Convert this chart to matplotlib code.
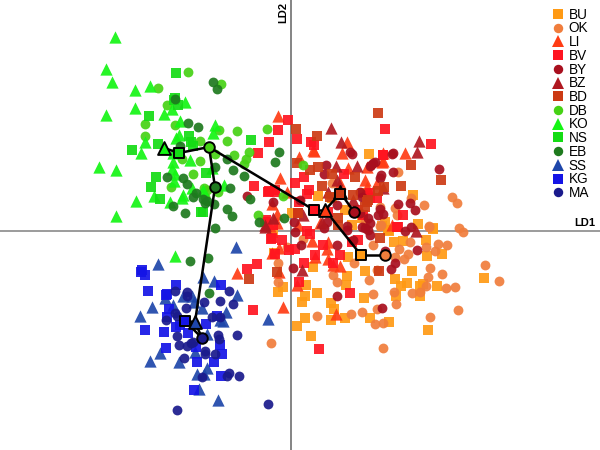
import matplotlib
matplotlib.use("Agg")
import matplotlib.pyplot as plt
from matplotlib.lines import Line2D

plt.rcParams['font.family'] = ['Liberation Sans', 'DejaVu Sans']

BU = [(74,-40),(104,-48),(121,-40),(56,-45),(55,-54),(116,-52),(110,-55),(129,-55),(146,-55),(193,-47),(129,-65),(132,-53),(105,-65),(73,-67),(26,-62),(14,-65),(11,-71),(15,-54),(-8,-56),(-13,-61),(22,-36),(40,-72),(43,-78),(14,-87),(6,-95),(20,-105),(40,-89),(54,-87),(79,-87),(98,-91),(137,-99),(136,-25),(151,-23),(135,-9),(112,-10),(103,-11),(57,-26),(97,1),(142,2),(-18,-2),(-17,-22),(78,77),(122,36),(127,7),(142,3),(94,9),(98,0),(71,13),(72,38),(1,18),(27,35),(54,21),(41,33),(61,6),(91,5),(74,38)]
OK = [(42,-44),(46,-51),(78,-49),(82,-63),(103,-61),(121,-62),(129,-61),(135,-55),(137,-46),(139,-37),(151,-43),(155,-57),(164,-56),(194,-34),(208,-50),(167,-79),(139,-86),(105,-73),(84,-93),(92,-92),(71,-81),(60,-83),(26,-85),(-20,-112),(92,-117),(86,-78),(-13,-32),(-13,-51),(12,-8),(63,-32),(108,-18),(113,-28),(117,-23),(104,-26),(135,-16),(147,-13),(156,-14),(144,-20),(119,-11),(82,-14),(172,-1),(168,3),(138,4),(86,-39),(107,59),(161,34),(166,28),(133,26),(120,33),(104,23),(106,16),(90,6),(138,5),(89,24),(41,48),(89,5),(72,38),(74,9),(-4,-16)]
LI = [(114,78),(92,78),(92,70),(74,51),(86,48),(101,6),(-13,115),(56,89),(51,78),(8,74),(23,80),(-11,53),(57,63),(76,64),(-19,27),(22,81),(-4,39),(76,44),(91,69),(-21,5),(7,6),(-14,8),(49,48),(29,8),(-12,-17),(-19,-22),(21,-10),(37,-11),(36,-18),(37,-28),(24,-26),(49,-35),(-12,-41),(6,-54),(-8,-76),(45,-83),(42,-34),(-54,-42),(-14,17)]
BV = [(140,87),(92,76),(112,16),(107,4),(86,33),(79,38),(-3,111),(-13,101),(-22,89),(-33,78),(6,92),(20,89),(23,86),(94,102),(92,76),(13,54),(4,48),(-37,45),(-22,40),(-16,41),(18,41),(16,37),(8,29),(53,57),(-26,9),(7,18),(37,19),(72,16),(106,4),(79,33),(67,21),(-19,-7),(-9,-9),(-16,-23),(-2,-19),(4,-18),(-34,-33),(13,-32),(24,-24),(32,-14),(49,-24),(42,-32),(8,-51),(59,-62),(28,-118),(-38,-79),(16,0),(19,-3),(67,-9),(61,-11),(-44,-38),(-20,-8),(-18,6),(-25,11),(-23,39),(-16,39)]
BY = [(101,77),(84,69),(80,66),(102,59),(90,56),(89,53),(148,62),(107,27),(119,28),(124,21),(89,22),(92,17),(77,13),(79,8),(120,4),(114,0),(71,34),(71,4),(77,1),(59,79),(61,77),(35,66),(33,57),(82,68),(79,65),(102,78),(-18,29),(9,31),(46,26),(69,39),(3,9),(36,9),(56,5),(69,18),(87,16),(4,-1),(10,-14),(2,-37),(46,-14),(33,3),(56,1),(46,-65),(91,-77),(100,-38),(104,-32),(94,-20),(126,-19),(79,-4),(74,3),(62,-9),(-44,35)]
BZ = [(128,90),(126,79),(125,0),(40,103),(50,89),(66,65),(45,65),(37,39),(46,51),(12,16),(31,9),(-18,13),(-26,6),(62,31),(92,43),(11,-39),(-26,4)]
BD = [(120,66),(150,51),(110,45),(93,44),(87,40),(77,31),(74,24),(87,118),(5,102),(26,95),(6,68),(19,61),(27,64),(41,57),(64,54),(31,45),(39,34),(47,13),(76,29),(47,6),(7,18),(62,36),(-14,-41),(-42,-48),(88,-40),(89,-7)]
DB = [(-103,159),(-70,147),(-133,143),(-124,126),(-146,107),(-116,106),(-146,95),(-72,101),(-54,100),(-24,102),(-91,90),(-64,90),(-76,77),(-57,76),(-42,79),(-91,70),(-45,72),(-47,67),(-98,57),(-120,44),(-109,72),(-73,39),(-8,35),(-87,43),(-33,16),(-84,41),(-86,34),(12,66)]
KO = [(-176,194),(-185,162),(-179,149),(-156,141),(-141,145),(-156,123),(-185,116),(-127,117),(-106,129),(-119,122),(-111,110),(-76,106),(-78,98),(-112,96),(-115,93),(-146,89),(-150,78),(-192,64),(-175,61),(-118,78),(-118,69),(-101,71),(-119,62),(-116,57),(-117,50),(-99,43),(-67,46),(-137,35),(-155,30),(-121,29),(-108,36),(-109,33),(-175,15),(-88,41),(-79,63),(-116,-25)]
NS = [(-115,158),(-116,133),(-117,131),(-113,126),(-142,115),(-102,95),(-100,89),(-133,87),(-159,81),(-98,85),(-40,91),(-85,58),(-135,54),(-140,44),(-131,32),(-90,19),(-88,19)]
EB = [(-78,149),(-74,142),(-116,132),(-103,108),(-93,104),(-111,85),(-64,72),(-12,79),(-16,69),(-58,61),(-76,64),(-47,55),(-124,54),(-108,53),(-104,47),(-61,43),(-95,38),(-98,34),(-88,32),(-84,30),(-86,28),(-77,27),(-118,25),(-106,18),(-64,22),(-59,15),(-41,32),(-7,13),(-32,9),(-76,3),(-101,-30),(-83,-27),(-82,-62)]
SS = [(-55,-16),(-133,-33),(-88,-46),(-77,-50),(-54,-64),(-108,-65),(-99,-65),(-97,-71),(-118,-74),(-139,-76),(-89,-77),(-65,-81),(-151,-85),(-71,-89),(-68,-90),(-84,-103),(-96,-121),(-131,-122),(-141,-130),(-112,-131),(-84,-137),(-94,-143),(-87,-143),(-92,-158),(-73,-169),(-23,-88),(-126,-67)]
KG = [(-149,-39),(-150,-41),(-146,-44),(-115,-54),(-143,-60),(-70,-54),(-125,-64),(-124,-63),(-122,-78),(-124,-86),(-74,-85),(-85,-93),(-146,-99),(-127,-101),(-115,-96),(-103,-102),(-71,-114),(-125,-117),(-95,-116),(-69,-123),(-94,-131),(-77,-131),(-70,-145),(-97,-159),(-111,-94)]
MA = [(-116,-60),(-104,-61),(-104,-65),(-62,-60),(-87,-71),(-71,-70),(-58,-73),(-105,-77),(-116,-82),(-114,-85),(-125,-89),(-79,-86),(-71,-86),(-114,-105),(-73,-104),(-72,-108),(-54,-104),(-112,-114),(-104,-115),(-100,-112),(-98,-111),(-107,-127),(-86,-120),(-86,-123),(-76,-123),(-89,-146),(-64,-145),(-62,-142),(-52,-145),(-114,-179),(-23,-173)]

GROUPS = ['BU','OK','LI','BV','BY','BZ','BD','DB','KO','NS','EB','SS','KG','MA']
VALUES = [BU,OK,LI,BV,BY,BZ,BD,DB,KO,NS,EB,SS,KG,MA]
MARKERS = ['s','o','^','s','o','^','s','o','^','s','o','^','s','o']
COLORS = ['#FF9A14','#F07D3C','#FF3C14','#FF1420','#A80F1E','#B01820','#CC3A14',
          '#46D214','#14F514','#14DC14','#1E7A1E','#1E46AA','#1414E6','#1A1A8C']
MEANS = {'BU':(70,-24),'OK':(94,-24),'LI':(34,21),'BV':(23,21),'BY':(63,19),'BZ':(49,39),'BD':(49,37),
         'DB':(-82,84),'KO':(-127,83),'NS':(-112,78),'EB':(-76,44),'SS':(-96,-91),'KG':(-106,-90),'MA':(-89,-107)}
LINKS = [('KO','NS'),('NS','DB'),('DB','BV'),('BV','LI'),('LI','BU'),('BU','OK'),('LI','BD'),('BD','BZ'),
         ('BZ','BY'),('DB','EB'),('EB','SS'),('SS','KG'),('KG','MA'),('SS','MA')]

fig = plt.figure(figsize=(6, 4.5), dpi=100)
ax = fig.add_axes([0, 0, 1, 1])
ax.set_xlim(-291, 309)
ax.set_ylim(-219, 231)
ax.axis('off')
ax.axhline(0, color='#8a8a8a', lw=1.2, zorder=1)
ax.axvline(0, color='#707070', lw=1.2, zorder=1)

sizes = {'s': 44, 'o': 50, '^': 78}
mean_sizes = {'s': 52, 'o': 58, '^': 85}
for i, (g, pts) in enumerate(zip(GROUPS, VALUES)):
    xs, ys = zip(*pts)
    ax.scatter(xs, ys, s=sizes[MARKERS[i]], marker=MARKERS[i], color=COLORS[i],
               alpha=0.92, linewidths=0, zorder=2 + i * 0.01)

for a, b in LINKS:
    ax.plot([MEANS[a][0], MEANS[b][0]], [MEANS[a][1], MEANS[b][1]], color='black', lw=1.8, zorder=5,
            solid_capstyle='round')
for i, g in enumerate(GROUPS):
    ax.scatter(*MEANS[g], s=mean_sizes[MARKERS[i]], marker=MARKERS[i], facecolor=COLORS[i],
               edgecolor='black', linewidths=1.4, zorder=6)

handles = [Line2D([], [], ls='', marker=MARKERS[i], color=COLORS[i], markersize=6.8 if MARKERS[i] != '^' else 8.5,
                  markeredgewidth=0, label=g) for i, g in enumerate(GROUPS)]
ax.legend(handles=handles, loc='upper left', bbox_to_anchor=(0.918, 0.983), frameon=False, fontsize=9.8,
          labelspacing=-0.02, handlelength=1.0, handletextpad=0.30, borderpad=0, borderaxespad=0)

ax.text(294, 8, 'LD1', fontsize=8, fontweight='bold', ha='center', va='center', zorder=7)
ax.text(-8, 219, 'LD2', fontsize=8, fontweight='bold', rotation=90, ha='center', va='center', zorder=7)

fig.savefig('out.png', dpi=100)
